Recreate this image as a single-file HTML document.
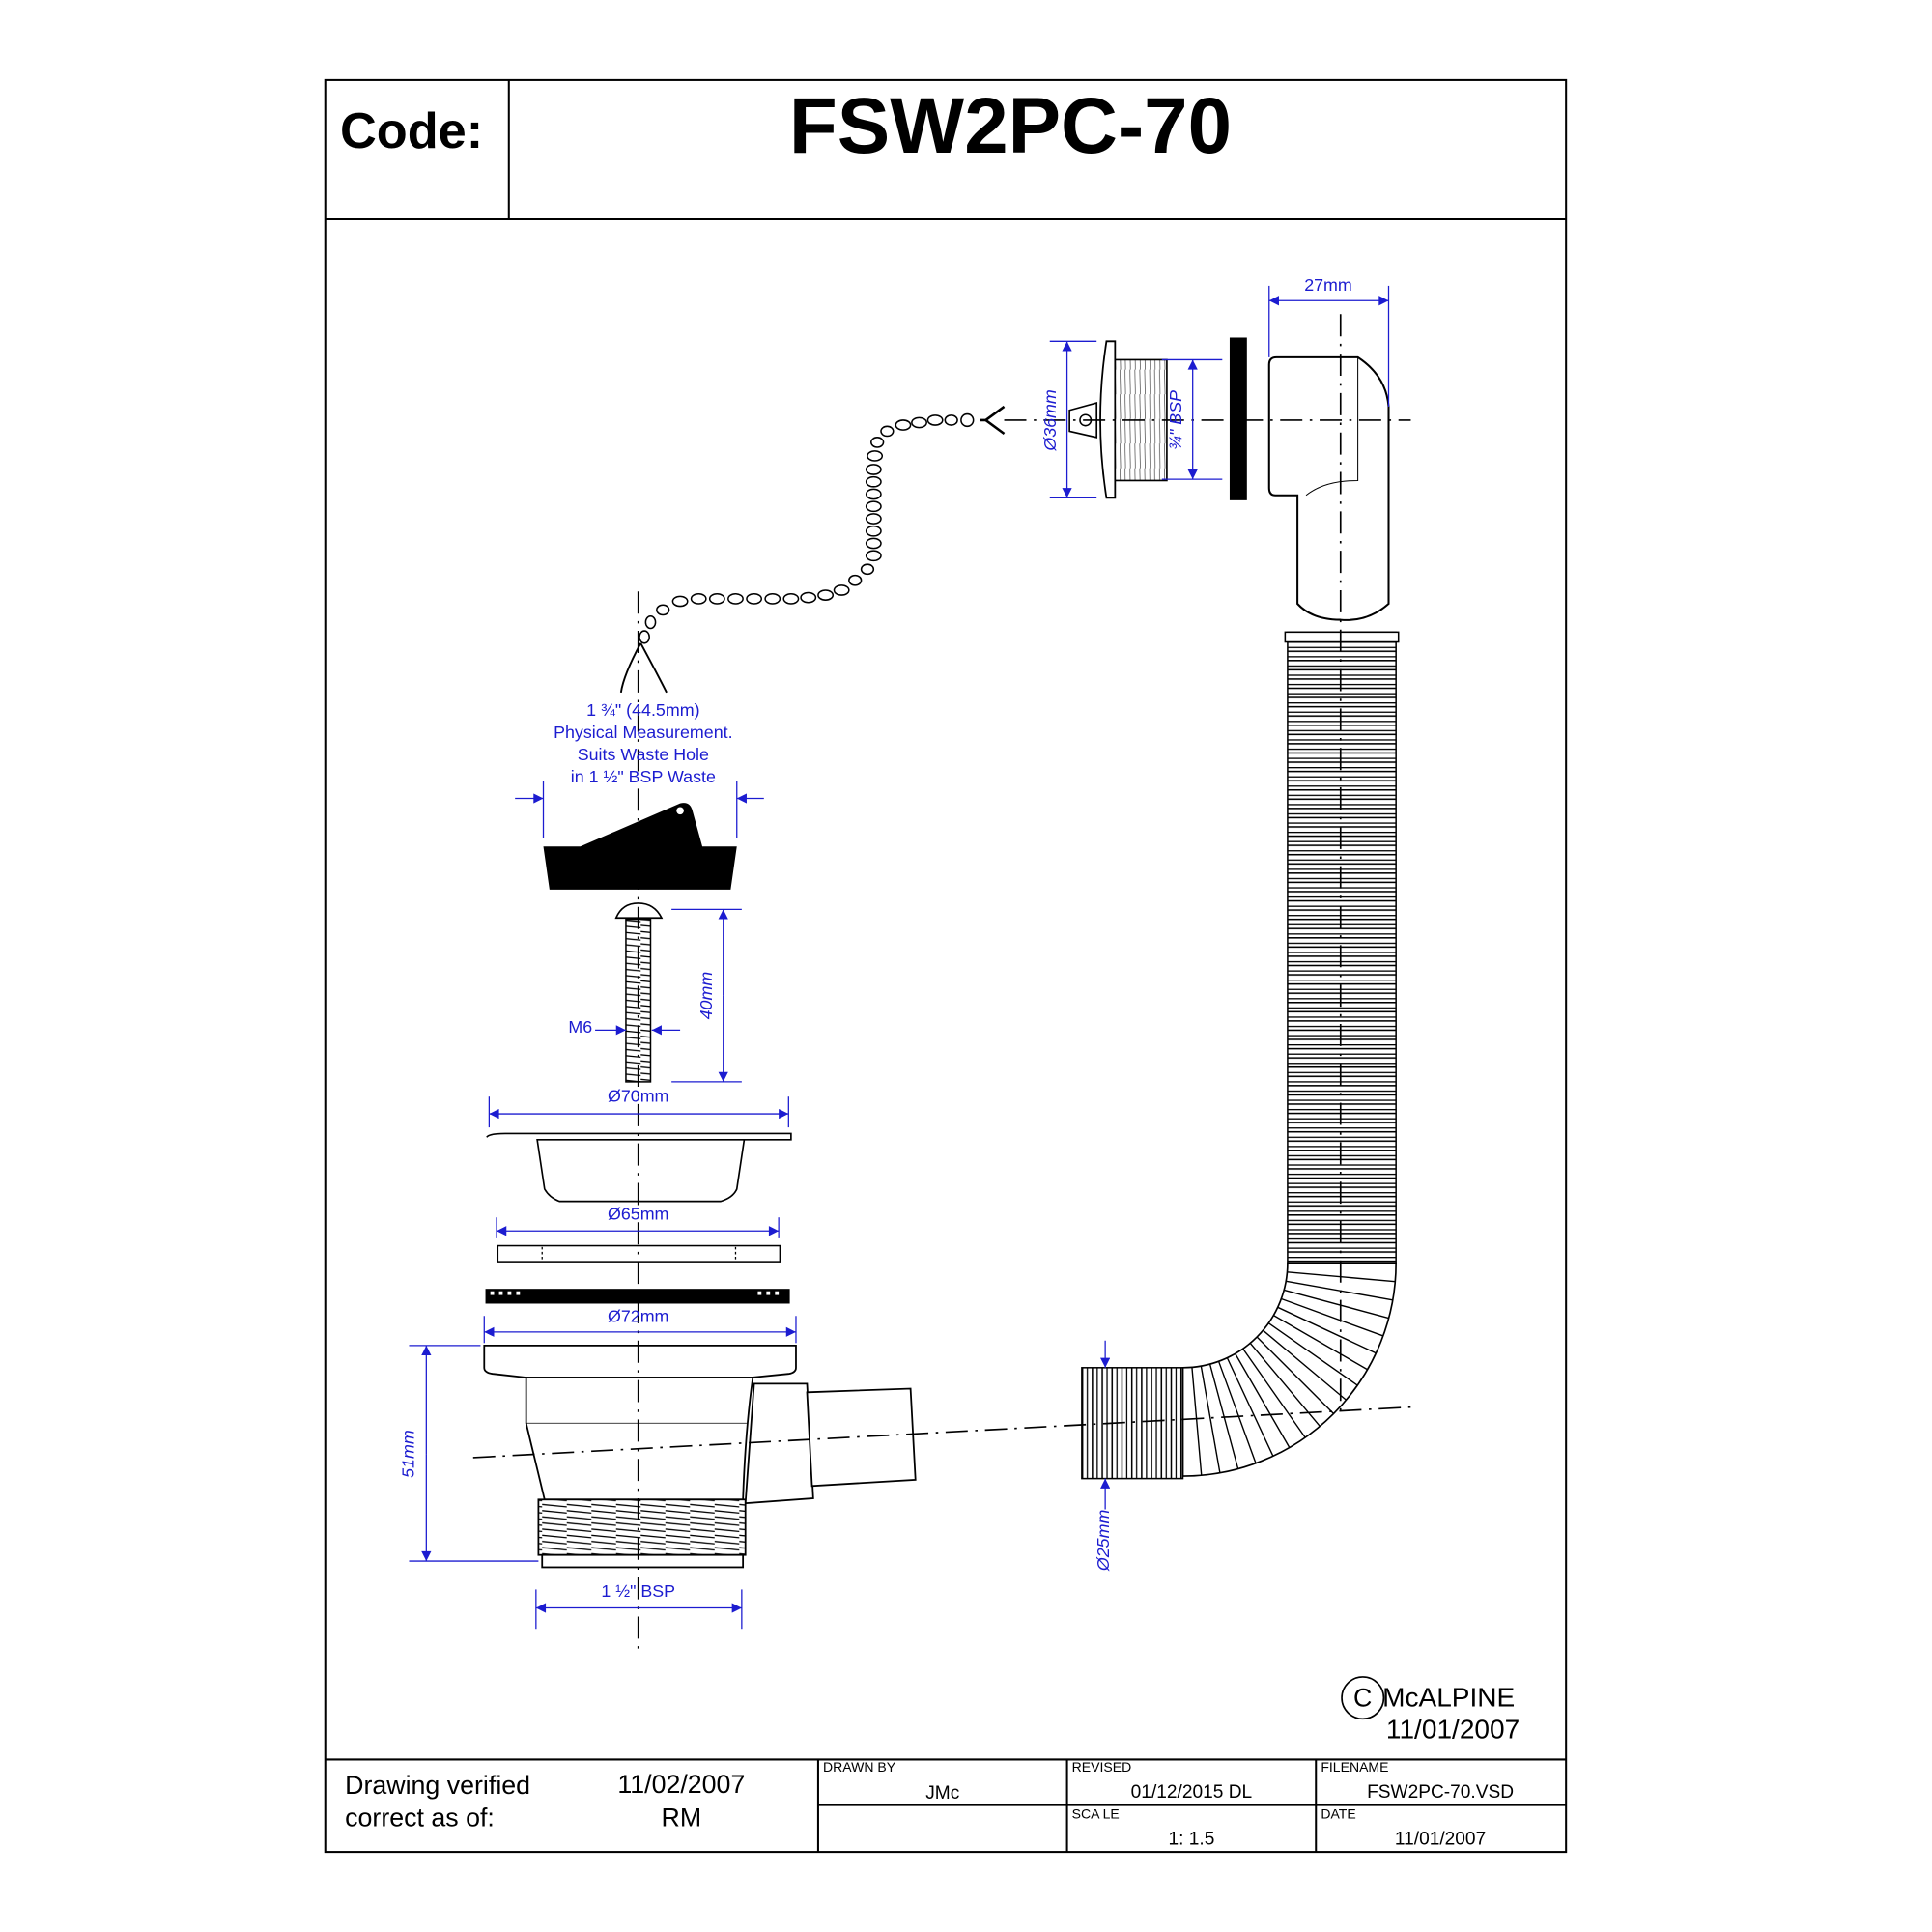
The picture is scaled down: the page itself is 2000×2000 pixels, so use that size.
<!DOCTYPE html>
<html><head><meta charset="utf-8"><style>
html,body{margin:0;padding:0;background:#fff;}
svg{display:block;}
text{font-family:"Liberation Sans",sans-serif;}
.b{fill:#1c1cd0;}
</style></head><body>
<svg width="2000" height="2000" viewBox="0 0 1568 1568" xmlns="http://www.w3.org/2000/svg">
<defs>
<marker id="ar" viewBox="0 0 10 10" refX="10" refY="5" markerWidth="10" markerHeight="8" markerUnits="userSpaceOnUse" orient="auto"><path d="M0,0L10,5L0,10z" fill="#1c1cd0"/></marker>
<pattern id="hr" width="20" height="7.5" patternUnits="userSpaceOnUse" y="513"><rect width="20" height="7.5" fill="#fff"/><line x1="0" y1="0.6" x2="20" y2="0.6" stroke="#000" stroke-width="1.2"/><line x1="0" y1="5" x2="20" y2="5" stroke="#000" stroke-width="1"/></pattern>
<pattern id="vr" width="8" height="20" patternUnits="userSpaceOnUse" x="878"><rect width="8" height="20" fill="#fff"/><line x1="0.6" y1="0" x2="0.6" y2="20" stroke="#000" stroke-width="1.2"/><line x1="4.5" y1="0" x2="4.5" y2="20" stroke="#000" stroke-width="1"/></pattern>
<pattern id="th" width="20" height="5" patternUnits="userSpaceOnUse"><rect width="20" height="5" fill="#fff"/><line x1="0" y1="1" x2="20" y2="3" stroke="#000" stroke-width="1"/></pattern>
<pattern id="tv" width="4" height="20" patternUnits="userSpaceOnUse"><rect width="4" height="20" fill="#fff"/><line x1="1" y1="0" x2="1.5" y2="20" stroke="#555" stroke-width="0.6"/></pattern>
</defs>

<!-- frame -->
<g stroke="#000" stroke-width="1.6" fill="none">
<rect x="264" y="65" width="1007" height="1438"/>
<line x1="264" y1="178" x2="1271" y2="178"/>
<line x1="413" y1="65" x2="413" y2="178"/>
<line x1="264" y1="1428" x2="1271" y2="1428"/>
<line x1="664" y1="1428" x2="664" y2="1503"/>
<line x1="866" y1="1428" x2="866" y2="1503"/>
<line x1="1068" y1="1428" x2="1068" y2="1503"/>
<line x1="664" y1="1465" x2="1271" y2="1465"/>
</g>
<text x="276" y="120" font-size="41" font-weight="bold">Code:</text>
<text x="820" y="124" font-size="64" font-weight="bold" text-anchor="middle">FSW2PC-70</text>
<text x="280" y="1456" font-size="21">Drawing verified</text>
<text x="280" y="1482" font-size="21">correct as of:</text>
<text x="553" y="1455" font-size="21" text-anchor="middle">11/02/2007</text>
<text x="553" y="1482" font-size="21" text-anchor="middle">RM</text>
<g font-size="11"><text x="668" y="1438">DRAWN BY</text><text x="870" y="1438">REVISED</text><text x="1072" y="1438">FILENAME</text><text x="870" y="1476">SCA LE</text><text x="1072" y="1476">DATE</text></g>
<g font-size="15" text-anchor="middle"><text x="765" y="1460">JMc</text><text x="967" y="1459">01/12/2015 DL</text><text x="1169" y="1459">FSW2PC-70.VSD</text><text x="967" y="1497">1: 1.5</text><text x="1169" y="1497">11/01/2007</text></g>
<circle cx="1106" cy="1378" r="17" fill="none" stroke="#000" stroke-width="1.3"/>
<text x="1106" y="1385" font-size="21" text-anchor="middle">C</text>
<text x="1122" y="1385" font-size="22">McALPINE</text>
<text x="1125" y="1411" font-size="22">11/01/2007</text>

<!-- hose -->
<rect x="1045" y="513" width="88" height="512" fill="url(#hr)" stroke="#000" stroke-width="1.2"/>
<rect x="1043" y="513" width="92" height="8" fill="#fff" stroke="#000" stroke-width="1.2"/>
<path d="M1045,1025 A85,85 0 0 1 960,1110 L960,1198 A173,173 0 0 0 1133,1025 Z" fill="#fff" stroke="#000" stroke-width="1.3"/>
<g stroke="#000" stroke-width="1.1">
<line x1="1044.7" y1="1032.4" x2="1132.3" y2="1040.1"/><line x1="1043.7" y1="1039.8" x2="1130.4" y2="1055.1"/><line x1="1042.1" y1="1047" x2="1127.1" y2="1069.8"/><line x1="1039.9" y1="1054.1" x2="1122.6" y2="1084.2"/><line x1="1037" y1="1061" x2="1116.7" y2="1098.2"/><line x1="1033.6" y1="1067.5" x2="1109.8" y2="1111.5"/><line x1="1029.6" y1="1073.8" x2="1101.7" y2="1124.3"/><line x1="1025.1" y1="1079.7" x2="1092.5" y2="1136.2"/><line x1="1020.1" y1="1085.1" x2="1082.3" y2="1147.3"/><line x1="1014.7" y1="1090.1" x2="1071.2" y2="1157.5"/><line x1="1008.8" y1="1094.6" x2="1059.3" y2="1166.7"/><line x1="1002.5" y1="1098.6" x2="1046.5" y2="1174.8"/><line x1="996" y1="1102" x2="1033.2" y2="1181.7"/><line x1="989.1" y1="1104.9" x2="1019.2" y2="1187.6"/><line x1="982" y1="1107.1" x2="1004.8" y2="1192.1"/><line x1="974.8" y1="1108.7" x2="990.1" y2="1195.4"/><line x1="967.4" y1="1109.7" x2="975.1" y2="1197.3"/>
</g>
<rect x="878" y="1110" width="82" height="90" fill="url(#vr)" stroke="#000" stroke-width="1.2"/>

<!-- top waste -->
<path d="M898,277 L905,277 L905,404 L898,404 Q888,341 898,277 Z" fill="#fff" stroke="#000" stroke-width="1.4"/>
<path d="M868,333 L890,327 L890,355 L868,350 Z" fill="#fff" stroke="#000" stroke-width="1.3"/>
<circle cx="881" cy="341" r="4.5" fill="#fff" stroke="#000" stroke-width="1.2"/>
<rect x="905" y="292" width="42" height="98" fill="url(#tv)" stroke="#000" stroke-width="1.3"/>
<rect x="998" y="274" width="14" height="132" fill="#000"/>
<path d="M1030,296 Q1030,290 1036,290 L1102,290 Q1125,305 1127,330 L1127,490 Q1110,505 1088,503 Q1065,503 1053,490 L1053,402 L1035,402 Q1030,402 1030,396 Z" fill="#fff" stroke="#000" stroke-width="1.6"/>
<path d="M1102,290 L1102,390 Q1075,390 1060,402" fill="none" stroke="#000" stroke-width="0.8"/>

<!-- chain -->
<g fill="#fff" stroke="#000" stroke-width="1.2">
<ellipse cx="523" cy="517" rx="4" ry="5"/><ellipse cx="528" cy="505" rx="4" ry="5"/><ellipse cx="538" cy="495" rx="5" ry="4"/>
<ellipse cx="552" cy="488" rx="6" ry="4"/><ellipse cx="567" cy="486" rx="6" ry="4"/><ellipse cx="582" cy="486" rx="6" ry="4"/><ellipse cx="597" cy="486" rx="6" ry="4"/><ellipse cx="612" cy="486" rx="6" ry="4"/><ellipse cx="627" cy="486" rx="6" ry="4"/><ellipse cx="642" cy="486" rx="6" ry="4"/><ellipse cx="656" cy="485" rx="6" ry="4"/><ellipse cx="670" cy="483" rx="6" ry="4"/><ellipse cx="683" cy="479" rx="6" ry="4"/><ellipse cx="694" cy="471" rx="5" ry="4"/><ellipse cx="704" cy="462" rx="5" ry="4"/>
<ellipse cx="709" cy="451" rx="6" ry="4"/><ellipse cx="709" cy="441" rx="6" ry="4"/><ellipse cx="709" cy="431" rx="6" ry="4"/><ellipse cx="709" cy="421" rx="6" ry="4"/><ellipse cx="709" cy="411" rx="6" ry="4"/><ellipse cx="709" cy="401" rx="6" ry="4"/><ellipse cx="709" cy="391" rx="6" ry="4"/><ellipse cx="709" cy="381" rx="6" ry="4"/><ellipse cx="710" cy="370" rx="6" ry="4"/><ellipse cx="712" cy="359" rx="5" ry="4"/><ellipse cx="720" cy="350" rx="5" ry="4"/>
<ellipse cx="733" cy="345" rx="6" ry="4"/><ellipse cx="746" cy="343" rx="6" ry="4"/><ellipse cx="759" cy="341" rx="6" ry="4"/><ellipse cx="772" cy="341" rx="5" ry="4"/><ellipse cx="785" cy="341" rx="5" ry="5"/>
<path d="M800,341 L815,330 M800,341 L815,352 M800,341 L795,341" fill="none" stroke-width="2"/>
</g>
<path d="M520,522 Q506,548 504,562 M520,522 Q534,548 541,562" fill="none" stroke="#000" stroke-width="1.5"/>

<!-- stopper -->
<path d="M441,687 L471,687 L552,652 Q560,650 562,658 L570,687 L598,687 L593,722 L446,722 Z" fill="#000"/>
<circle cx="552" cy="658" r="3" fill="#fff"/>
<!-- screw -->
<path d="M500,745 Q505,733 518,733 Q531,733 537,745 Z" fill="#fff" stroke="#000" stroke-width="1.3"/>
<rect x="508" y="746" width="20" height="132" fill="url(#th)" stroke="#000" stroke-width="1.2"/>

<!-- strainer -->
<path d="M395,923 Q397,920 410,920 L642,920 L642,925 L436,925 L442,965 Q446,972 454,975 L585,975 Q595,972 598,965 L604,925" fill="#fff" stroke="#000" stroke-width="1.3"/>
<rect x="404" y="1011" width="229" height="13" fill="#fff" stroke="#000" stroke-width="1.2"/>
<line x1="440" y1="1012" x2="440" y2="1023" stroke="#000" stroke-dasharray="2,2"/><line x1="597" y1="1012" x2="597" y2="1023" stroke="#000" stroke-dasharray="2,2"/>
<rect x="394" y="1046" width="247" height="12" fill="#000"/>
<g fill="#fff"><rect x="398" y="1048" width="3" height="3"/><rect x="405" y="1048" width="3" height="3"/><rect x="412" y="1048" width="3" height="3"/><rect x="419" y="1048" width="3" height="3"/><rect x="615" y="1048" width="3" height="3"/><rect x="622" y="1048" width="3" height="3"/><rect x="629" y="1048" width="3" height="3"/></g>

<!-- body -->
<g stroke="#000" stroke-width="1.4" fill="#fff">
<path d="M393,1092 L646,1092 L646,1110 Q646,1114 640,1115 L610,1118 L427,1118 L400,1115 Q393,1114 393,1110 Z"/>
<path d="M612,1123 L655,1123 L660,1216 L605,1220 Z"/>
<path d="M655,1130 L739,1127 L743,1201 L659,1206 Z"/>
<path d="M427,1118 L611,1118 Q605,1160 603,1217 L442,1217 L427,1155 Z"/>
<rect x="437" y="1217" width="168" height="45" fill="url(#th)"/>
<rect x="440" y="1262" width="163" height="10"/>
</g>
<line x1="427" y1="1155" x2="606" y2="1155" stroke="#000" stroke-width="0.6"/>

<!-- center lines (drawn over parts) -->
<g stroke="#000" stroke-width="1.3" stroke-dasharray="18,6,2,6" fill="none">
<line x1="518" y1="480" x2="518" y2="1340"/>
<line x1="384" y1="1183" x2="1145" y2="1142"/>
<line x1="1088" y1="255" x2="1088" y2="1150"/>
<line x1="815" y1="341" x2="1145" y2="341"/>
</g>

<!-- dimensions -->
<g stroke="#1c1cd0" stroke-width="1" fill="none">
<line x1="1030" y1="232" x2="1030" y2="290"/><line x1="1127" y1="232" x2="1127" y2="330"/>
<line x1="1078" y1="244" x2="1030" y2="244" marker-end="url(#ar)"/><line x1="1078" y1="244" x2="1127" y2="244" marker-end="url(#ar)"/>
<line x1="852" y1="277" x2="890" y2="277"/><line x1="852" y1="404" x2="890" y2="404"/>
<line x1="866" y1="341" x2="866" y2="277" marker-end="url(#ar)"/><line x1="866" y1="341" x2="866" y2="404" marker-end="url(#ar)"/>
<line x1="943" y1="292" x2="992" y2="292"/><line x1="943" y1="389" x2="992" y2="389"/>
<line x1="968" y1="341" x2="968" y2="292" marker-end="url(#ar)"/><line x1="968" y1="341" x2="968" y2="389" marker-end="url(#ar)"/>
<line x1="441" y1="634" x2="441" y2="680"/><line x1="598" y1="634" x2="598" y2="680"/>
<line x1="418" y1="648" x2="441" y2="648" marker-end="url(#ar)"/><line x1="620" y1="648" x2="598" y2="648" marker-end="url(#ar)"/>
<line x1="545" y1="738" x2="602" y2="738"/><line x1="545" y1="878" x2="602" y2="878"/>
<line x1="587" y1="808" x2="587" y2="738" marker-end="url(#ar)"/><line x1="587" y1="808" x2="587" y2="878" marker-end="url(#ar)"/>
<line x1="483" y1="836" x2="508" y2="836" marker-end="url(#ar)"/><line x1="552" y1="836" x2="529" y2="836" marker-end="url(#ar)"/>
<line x1="397" y1="890" x2="397" y2="915"/><line x1="640" y1="890" x2="640" y2="915"/>
<line x1="518" y1="904" x2="397" y2="904" marker-end="url(#ar)"/><line x1="518" y1="904" x2="640" y2="904" marker-end="url(#ar)"/>
<line x1="403" y1="988" x2="403" y2="1005"/><line x1="632" y1="988" x2="632" y2="1005"/>
<line x1="518" y1="999" x2="403" y2="999" marker-end="url(#ar)"/><line x1="518" y1="999" x2="632" y2="999" marker-end="url(#ar)"/>
<line x1="393" y1="1068" x2="393" y2="1090"/><line x1="646" y1="1068" x2="646" y2="1090"/>
<line x1="518" y1="1081" x2="393" y2="1081" marker-end="url(#ar)"/><line x1="518" y1="1081" x2="646" y2="1081" marker-end="url(#ar)"/>
<line x1="332" y1="1092" x2="390" y2="1092"/><line x1="332" y1="1267" x2="437" y2="1267"/>
<line x1="346" y1="1180" x2="346" y2="1092" marker-end="url(#ar)"/><line x1="346" y1="1180" x2="346" y2="1267" marker-end="url(#ar)"/>
<line x1="435" y1="1290" x2="435" y2="1322"/><line x1="602" y1="1290" x2="602" y2="1322"/>
<line x1="518" y1="1305" x2="435" y2="1305" marker-end="url(#ar)"/><line x1="518" y1="1305" x2="602" y2="1305" marker-end="url(#ar)"/>
<line x1="897" y1="1088" x2="897" y2="1110" marker-end="url(#ar)"/><line x1="897" y1="1225" x2="897" y2="1200" marker-end="url(#ar)"/>
</g>
<g class="b" font-size="14" text-anchor="middle">
<text x="1078" y="236">27mm</text>
<text x="522" y="581">1 ¾" (44.5mm)</text>
<text x="522" y="599">Physical Measurement.</text>
<text x="522" y="617">Suits Waste Hole</text>
<text x="522" y="635">in 1 ½" BSP Waste</text>
<text x="518" y="894">Ø70mm</text>
<text x="518" y="990">Ø65mm</text>
<text x="518" y="1073">Ø72mm</text>
<text x="518" y="1296">1 ½" BSP</text>
<text x="471" y="838" text-anchor="middle">M6</text>
<text transform="translate(857,341) rotate(-90)" font-style="italic">Ø36mm</text>
<text transform="translate(959,341) rotate(-90)" font-style="italic">¾" BSP</text>
<text transform="translate(578,808) rotate(-90)" font-style="italic">40mm</text>
<text transform="translate(336,1180) rotate(-90)" font-style="italic">51mm</text>
<text transform="translate(900,1250) rotate(-90)" font-style="italic">Ø25mm</text>
</g>
</svg>
</body></html>
